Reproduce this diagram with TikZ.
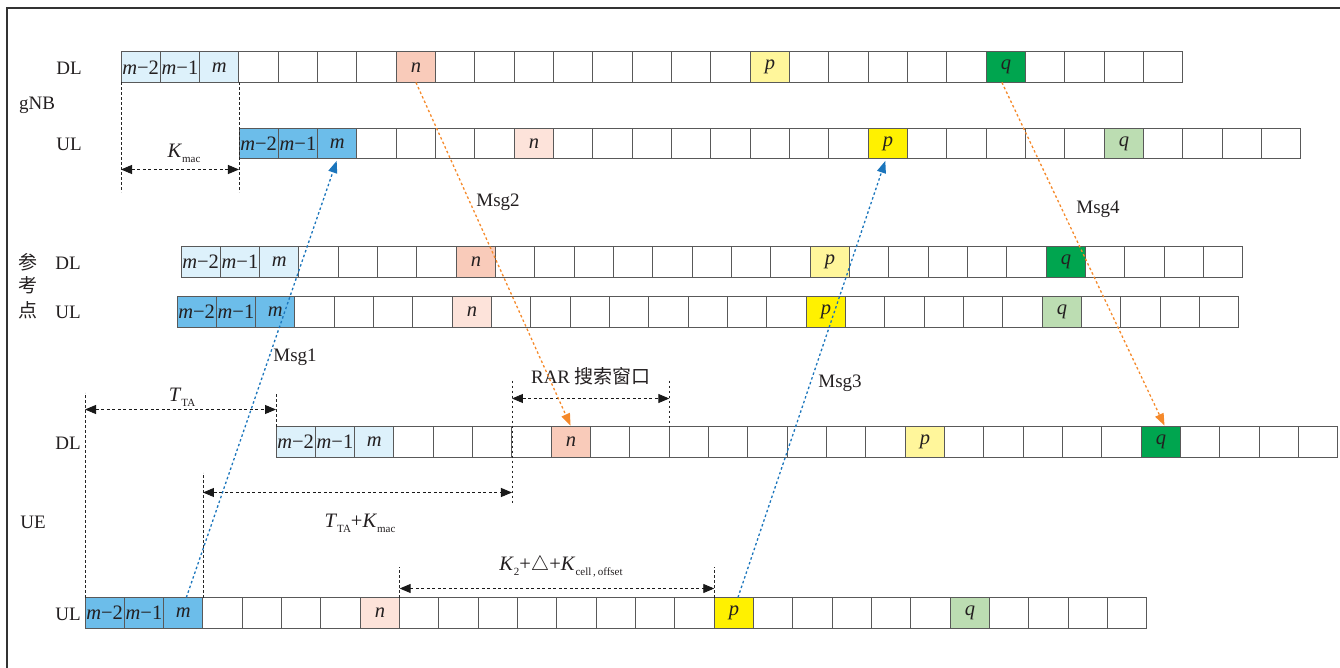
\documentclass[tikz,border=0pt]{standalone}
\usepackage{fontspec}
\setmainfont{Liberation Serif}
\newfontfamily\cjk{Noto Sans CJK SC}
\usetikzlibrary{arrows.meta,calc}
\definecolor{cDLm}{HTML}{DDF1FB}
\definecolor{cULm}{HTML}{6CBDEA}
\definecolor{cDLn}{HTML}{F9CBBA}
\definecolor{cULn}{HTML}{FDE3DA}
\definecolor{cDLp}{HTML}{FFF69B}
\definecolor{cULp}{HTML}{FFF100}
\definecolor{cDLq}{HTML}{00A54F}
\definecolor{cULq}{HTML}{BCDDB2}
\definecolor{msgblue}{HTML}{1B75BC}
\definecolor{msgorange}{HTML}{F5892A}
\definecolor{txt}{HTML}{231F20}
\newcommand\cellfont{\fontsize{20.5}{22}\selectfont}
\newcommand\lblfont{\fontsize{19}{22}\selectfont}
\newcommand\subs[1]{\raisebox{-5pt}{\fontsize{11}{12}\selectfont #1}}
\expandafter\def\csname ct0\endcsname{\textit{m}−2}
\expandafter\def\csname ct1\endcsname{\textit{m}−1}
\expandafter\def\csname ct2\endcsname{\textit{m}}
\expandafter\def\csname ct7\endcsname{\textit{n}}
\expandafter\def\csname ct16\endcsname{\textit{p}}
\expandafter\def\csname ct22\endcsname{\textit{q}}
\tikzset{
  cell/.style={draw=black!65, line width=1pt, minimum width=39.33pt, minimum height=30.5pt,
    inner sep=0pt, outer sep=0pt, anchor=north west, font=\cellfont, text=txt},
  dl-0/.style={fill=cDLm}, dl-1/.style={fill=cDLm}, dl-2/.style={fill=cDLm},
  dl-7/.style={fill=cDLn}, dl-16/.style={fill=cDLp}, dl-22/.style={fill=cDLq},
  ul-0/.style={fill=cULm}, ul-1/.style={fill=cULm}, ul-2/.style={fill=cULm},
  ul-7/.style={fill=cULn}, ul-16/.style={fill=cULp}, ul-22/.style={fill=cULq},
  lab/.style={font=\lblfont, text=txt, inner sep=1pt},
  mlab/.style={font=\cellfont, text=txt, inner sep=1pt},
  ext/.style={black!85, line width=0.9pt, dash pattern=on 2.5pt off 2.5pt},
  dimarrow/.style={black!90, line width=0.9pt, dash pattern=on 3pt off 2.5pt,
    {Triangle[length=11pt,width=9pt]}-{Triangle[length=11pt,width=9pt]}},
  msgb/.style={line width=1.3pt, msgblue, dash pattern=on 2.5pt off 2.5pt,
    -{Triangle[length=12pt,width=9pt]}, shorten >=2pt},
  msgo/.style={line width=1.3pt, msgorange, dash pattern=on 2.5pt off 2.5pt,
    -{Triangle[length=12pt,width=9pt]}, shorten >=1pt},
  frame/.style={draw=black!80, line width=1.3pt}
}
\newcommand\tlrow[4]{%
  \foreach \i in {0,...,26}{
    \node[cell, #4-\i/.try] (#1c\i) at ({#2+\i*39.33},#3) {\csname ct\i\endcsname};
  }%
}
\begin{document}
\begin{tikzpicture}[x=1pt,y=-1pt]
\useasboundingbox (0,0) rectangle (1340,668);
\draw[frame] (7,668) -- (7,8) -- (1340,8);

% rows
\tlrow{r1}{121}{52}{dl}
\tlrow{r2}{239}{128.5}{ul}
\tlrow{r3}{181}{246.5}{dl}
\tlrow{r4}{177}{296.5}{ul}
\tlrow{r5}{276}{426.5}{dl}
\tlrow{r6}{85}{597.5}{ul}

% row labels
\node[lab] (gdl) at (69,68) {DL};
\node[lab] (gnb) at (37,105) {gNB};
\node[lab] (gul) at (69,144) {UL};
\node[lab] (ref1) at (28,262) {\cjk 参};
\node[lab] (ref2) at (28,285) {\cjk 考};
\node[lab] (ref3) at (28,310) {\cjk 点};
\node[lab] (rdl) at (68,263) {DL};
\node[lab] (rul) at (68,312) {UL};
\node[lab] (udl) at (68,443) {DL};
\node[lab] (ue) at (33,522) {UE};
\node[lab] (uul) at (68,614) {UL};

% K_mac
\draw[ext] (r1c0.south west) -- ++(0,110);
\draw[ext] (r1c2.south east) -- ++(0,110);
\draw[dimarrow] ($(r1c0.south west)+(0,87)$) -- ($(r1c2.south east)+(0,87)$);
\node[mlab] (kmac) at (184,153) {\textit{K}\subs{mac}};

% T_TA
\draw[ext] (r6c0.north west) -- ++(0,-205);
\draw[ext] (r5c0.north west) -- ++(0,-34);
\draw[dimarrow] ($(r6c0.north west)+(0,-188)$) -- ($(r5c0.north west)+(0,-17)$);
\node[mlab] (tta) at (182,397) {\textit{T}\subs{TA}};

% T_TA + K_mac
\draw[ext] (r6c2.north east) -- ++(0,-125);
\draw[ext] ($(r5c6.north west)+(0,-46)$) -- ++(0,124);
\draw[dimarrow] ($(r6c2.north east)+(0,-105)$) -- ($(r5c6.north west)+(0,66)$);
\node[mlab] (ttak) at (360,523) {\textit{T}\subs{TA}+\textit{K}\subs{mac}};

% RAR window
\draw[ext] ($(r5c10.north west)+(0,-46)$) -- (r5c10.north west);
\draw[dimarrow] ($(r5c6.north west)+(0,-28)$) -- ($(r5c10.north west)+(0,-28)$);
\node[lab] (rar) at (591,376) {RAR {\cjk 搜索窗口}};

% K2 + delta + Kcell,offset
\draw[ext] (r6c8.north west) -- ++(0,-31);
\draw[ext] (r6c16.north west) -- ++(0,-31);
\draw[dimarrow] ($(r6c8.north west)+(0,-9)$) -- ($(r6c16.north west)+(0,-9)$);
\node[mlab] (k2) at (561,567) {\textit{K}\subs{2}+$\triangle$+\textit{K}\subs{cell\,,\,offset}};

% messages
\draw[msgb] ($(r6c2.north)+(3,0)$) -- (r2c2.south);
\node[lab] (m1) at (295,357) {Msg1};
\draw[msgo] (r1c7.south) -- (r5c7.north);
\node[lab] (m2) at (498,202) {Msg2};
\draw[msgb] ($(r6c16.north)+(4,0)$) -- ($(r2c16.south)+(-2,0)$);
\node[lab] (m3) at (840,383) {Msg3};
\draw[msgo] ($(r1c22.south)+(-4,0)$) -- ($(r5c22.north)+(4,0)$);
\node[lab] (m4) at (1098,209) {Msg4};
\end{tikzpicture}
\end{document}
